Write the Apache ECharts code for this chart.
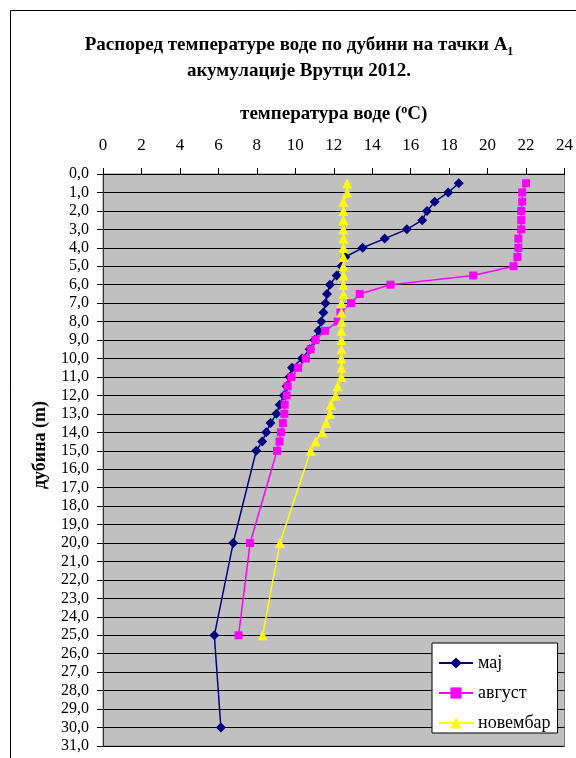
<!DOCTYPE html>
<html>
<head>
<meta charset="utf-8">
<script src="https://cdn.jsdelivr.net/npm/echarts@6/dist/echarts.min.js"></script>
<style>html,body{margin:0;padding:0;background:#fff;}#c{width:576px;height:758px;}</style>
</head>
<body>
<div id="c"></div>
<script>
const depths = [0.5,1,1.5,2,2.5,3,3.5,4,4.5,5,5.5,6,6.5,7,7.5,8,8.5,9,9.5,10,10.5,11,11.5,12,12.5,13,13.5,14,14.5,15,20,25,30];
const maj = [18.5,17.95,17.25,16.85,16.6,15.8,14.65,13.5,12.6,12.4,12.15,11.8,11.65,11.57,11.46,11.35,11.2,11.0,10.75,10.35,9.83,9.7,9.55,9.4,9.19,9.02,8.71,8.49,8.28,7.97,6.77,5.79,6.13];
const avgust = [22.0,21.8,21.8,21.75,21.75,21.75,21.6,21.6,21.55,21.35,19.25,14.95,13.35,12.9,12.35,12.2,11.55,11.05,10.8,10.55,10.15,9.8,9.6,9.55,9.45,9.43,9.35,9.25,9.18,9.05,7.65,7.05];
const novembar = [12.7,12.7,12.5,12.5,12.5,12.5,12.5,12.5,12.5,12.5,12.5,12.5,12.5,12.4,12.4,12.4,12.4,12.4,12.4,12.4,12.4,12.4,12.2,12.1,11.85,11.8,11.6,11.4,11.05,10.8,9.2,8.3];
const seriesNames = ['мај','август','новембар'];

const pairs = vals => vals.map((v,i)=>[v, depths[i]]);
const F = 'Liberation Serif';
const chart = echarts.init(document.getElementById('c'), null, {renderer:'canvas'});
chart.setOption({
  backgroundColor:'#fff',
  animation:false,
  graphic:[
    {type:'rect', shape:{x:10.5,y:10.5,width:700,height:900}, style:{fill:'none',stroke:'#000',lineWidth:1}, silent:true},
    {type:'text', x:299, y:58, style:{
      text:'Распоред температуре воде по дубини на тачки А{sub|1}\nакумулације Врутци 2012.',
      align:'center', verticalAlign:'middle', fill:'#000',
      font:'bold 19px "Liberation Serif"', lineHeight:26,
      rich:{sub:{fontSize:12, fontWeight:'bold', fontFamily:F, verticalAlign:'bottom', padding:[9,0,0,0]}}
    }},
    {type:'text', x:40, y:445, rotation:Math.PI/2, style:{
      text:'дубина (m)', align:'center', verticalAlign:'middle', fill:'#000',
      font:'bold 18px "Liberation Serif"'
    }}
  ],
  grid:{left:103, right:8, top:174, bottom:12, show:true, backgroundColor:'#C0C0C0', borderColor:'#808080', borderWidth:1, containLabel:false},
  xAxis:{
    type:'value', position:'top', min:0, max:24, interval:2,
    name:'температура воде ({sup|o}C)', nameLocation:'middle', nameGap:49,
    nameTextStyle:{fontFamily:F, fontSize:19, fontWeight:'bold', color:'#000',
      rich:{sup:{fontFamily:F, fontSize:12, fontWeight:'bold', verticalAlign:'top', padding:[0,0,9,0]}}},
    axisLine:{show:true, lineStyle:{color:'#000', width:1}},
    axisTick:{show:true, inside:false, length:6, lineStyle:{color:'#000'}},
    axisLabel:{fontFamily:F, fontSize:17, color:'#000', margin:20},
    splitLine:{show:false}
  },
  yAxis:{
    type:'value', inverse:true, min:0, max:31, interval:1,
    axisLine:{show:true, lineStyle:{color:'#333', width:1}},
    axisTick:{show:true, inside:false, length:6, lineStyle:{color:'#000'}},
    axisLabel:{fontFamily:F, fontSize:16, color:'#000', margin:14, formatter:v=>v.toFixed(1).replace('.',',')},
    splitLine:{show:true, lineStyle:{color:'#000', width:1}}
  },
  legend:{
    orient:'vertical', left:432, top:643, data:seriesNames,
    backgroundColor:'#fff', borderColor:'#000', borderWidth:1, borderRadius:0,
    padding:[11,7,1,6], itemWidth:34, itemHeight:14, itemGap:12,
    textStyle:{fontFamily:F, fontSize:18, color:'#000'}
  },
  series:[
    {name:seriesNames[0], type:'line', data:pairs(maj), symbol:'diamond', symbolSize:10,
      lineStyle:{color:'#000080', width:1.5}, itemStyle:{color:'#000080'}},
    {name:seriesNames[1], type:'line', data:pairs(avgust), symbol:'rect', symbolSize:8,
      lineStyle:{color:'#FF00FF', width:1.5}, itemStyle:{color:'#FF00FF'}},
    {name:seriesNames[2], type:'line', data:pairs(novembar), symbol:'triangle', symbolSize:10,
      lineStyle:{color:'#FFFF00', width:1.5}, itemStyle:{color:'#FFFF00'}}
  ]
});
</script>
</body>
</html>
